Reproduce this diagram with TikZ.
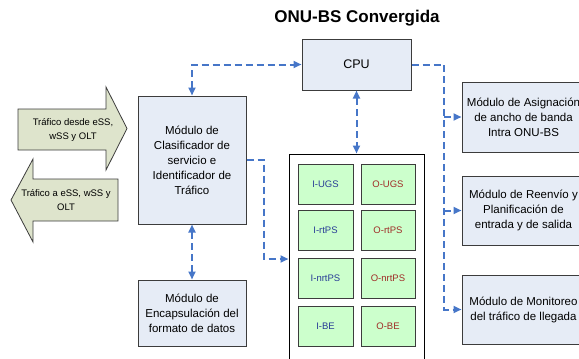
\documentclass[tikz,border=0pt]{standalone}
\usepackage{fontspec}
\setmainfont{Liberation Sans}
\usetikzlibrary{arrows.meta,calc}

\definecolor{boxfill}{RGB}{230,236,246}
\definecolor{boxline}{RGB}{60,60,60}
\definecolor{queuefill}{RGB}{204,255,204}
\definecolor{flowfill}{RGB}{222,228,204}
\definecolor{linkblue}{RGB}{70,118,200}
\definecolor{inblue}{RGB}{40,60,150}
\definecolor{outred}{RGB}{160,45,40}

\tikzset{
  module/.style={draw=boxline, line width=1pt, fill=boxfill, inner sep=0pt,
    align=center, font=\fontsize{11.5}{15}\selectfont},
  queue/.style={draw=boxline, line width=1pt, fill=queuefill, inner sep=0pt,
    minimum height=40pt, font=\fontsize{9.5}{12}\selectfont},
  flow/.style={draw=boxline, line width=0.8pt, fill=flowfill},
  flowtext/.style={align=center, font=\fontsize{9.5}{14}\selectfont},
  link/.style={draw=linkblue, line width=2pt, dash pattern=on 7pt off 4pt,
    arrows={-}, >={Triangle[length=8pt,width=7pt]}},
}

\begin{document}
\begin{tikzpicture}[x=1pt,y=-1pt]
  \useasboundingbox (0,0) rectangle (579,359);
  \clip (0,0) rectangle (579,359);

  % title
  \node[font=\fontsize{17}{20}\selectfont\bfseries] (title) at (357,18) {ONU-BS Convergida};

  % main modules
  \node[module, minimum width=109pt, minimum height=51pt, font=\fontsize{12.5}{15}\selectfont]
    (cpu) at (356.5,64.5) {CPU};
  \node[module, minimum width=108pt, minimum height=128pt]
    (cls) at (192,160) {Módulo de\\Clasificador de\\servicio e\\Identificador de\\Tráfico};
  \node[module, minimum width=108pt, minimum height=66pt]
    (enc) at (192,313) {Módulo de\\Encapsulación del\\formato de datos};

  % side modules (run past the right edge)
  \node[module, minimum width=123pt, minimum height=70pt]
    (m1) at (523.5,117) {Módulo de Asignación\\de ancho de banda\\Intra ONU-BS};
  \node[module, minimum width=123pt, minimum height=69pt]
    (m2) at (523.5,210.5) {Módulo de Reenvío y\\Planificación de\\entrada y de salida};
  \node[module, minimum width=123pt, minimum height=69pt]
    (m3) at (523.5,309.5) {Módulo de Monitoreo\\del tráfico de llegada};

  % queue container and its queues
  \node[draw=black, line width=1pt, fill=white, minimum width=135pt, minimum height=216pt, inner sep=0pt]
    (cont) at (356.5,262) {};
  \node[queue, minimum width=55pt, text=inblue]  (iugs)  at (325.5,184)   {I-UGS};
  \node[queue, minimum width=54pt, text=outred]  (ougs)  at (388,184)     {O-UGS};
  \node[queue, minimum width=55pt, text=inblue]  (irtps) at (325.5,230.5) {I-rtPS};
  \node[queue, minimum width=54pt, text=outred]  (ortps) at (388,230.5)   {O-rtPS};
  \node[queue, minimum width=55pt, text=inblue]  (inrt)  at (325.5,278)   {I-nrtPS};
  \node[queue, minimum width=54pt, text=outred]  (onrt)  at (388,278)     {O-nrtPS};
  \node[queue, minimum width=55pt, text=inblue]  (ibe)   at (325.5,326)   {I-BE};
  \node[queue, minimum width=54pt, text=outred]  (obe)   at (388,326)     {O-BE};

  % traffic block arrows
  \draw[flow] (18,109) -- (106,109) -- (106,87) -- (127,128.5) -- (106,170)
    -- (106,150) -- (18,150) -- cycle;
  \node[flowtext] (tin) at (73,130) {Tráfico desde eSS,\\wSS y OLT};
  \draw[flow] (118,179) -- (33,179) -- (33,159) -- (11,200) -- (33,242)
    -- (33,221) -- (118,221) -- cycle;
  \node[flowtext] (tout) at (66,200) {Tráfico a eSS, wSS y\\OLT};

  % control links
  \coordinate (bus) at (444,0);
  \coordinate (drop) at (264,259);
  \draw[link,<->] (cls.north) |- (cpu.west);
  \draw[link,<->] (cls.south) -- (enc.north);
  \draw[link,<->] (cpu.south) -- (cont.north);
  \draw[link,->] (cls.east) -| (drop) -- (drop -| cont.west);
  \draw[link,->] (cpu.east) -| (bus |- m3.west) -- (m3.west);
  \draw[link,->] (bus |- m1.west) -- (m1.west);
  \draw[link,->] (bus |- m2.west) -- (m2.west);
\end{tikzpicture}
\end{document}
